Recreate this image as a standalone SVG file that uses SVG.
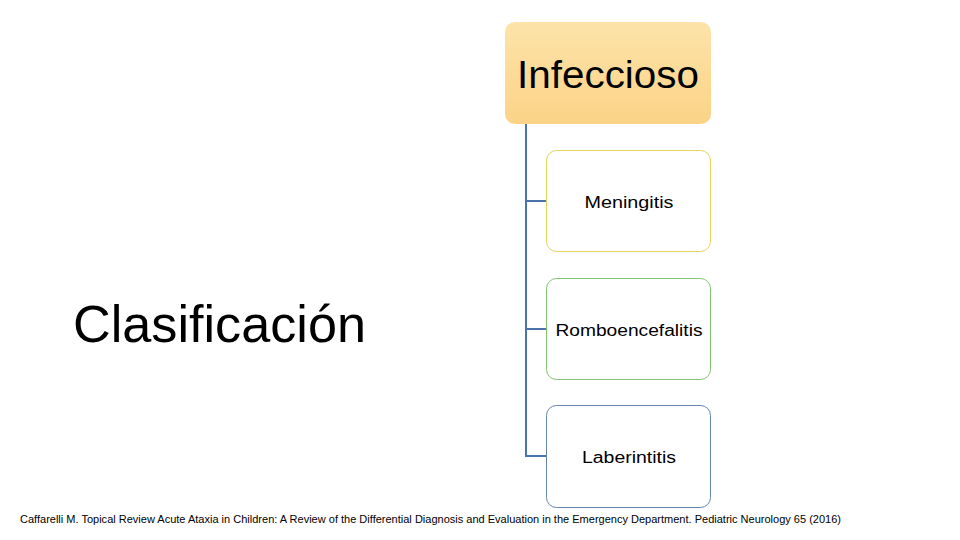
<svg xmlns="http://www.w3.org/2000/svg" width="960" height="540" viewBox="0 0 960 540">
<defs>
<linearGradient id="g1" x1="0" y1="0" x2="0" y2="1">
<stop offset="0" stop-color="#fde3a9"/>
<stop offset="1" stop-color="#fbd387"/>
</linearGradient>
<style>
text{font-family:"Liberation Sans","Open Sans",sans-serif;fill:#000}
.child{fill:#fff;stroke-width:1}
.c{stroke:#4b73ab;stroke-width:2;fill:none}
.t{font-size:16px;text-anchor:middle}
</style>
</defs>
<rect width="960" height="540" fill="#fff"/>
<text x="73" y="342" font-size="52" textLength="293" lengthAdjust="spacingAndGlyphs" fill="#222">Clasificación</text>
<g id="connectors">
<path class="c" d="M526 124V456H546M526 201H546M526 329H546"/>
</g>
<g id="infeccioso">
<rect x="505" y="22" width="206" height="102" rx="10" fill="url(#g1)"/>
<text x="608" y="88" font-size="38" text-anchor="middle" textLength="182" lengthAdjust="spacingAndGlyphs">Infeccioso</text>
</g>
<g id="meningitis">
<rect class="child" x="546.5" y="150.5" width="164" height="101" rx="10" stroke="#e5d35a"/>
<text class="t" x="629" y="208" textLength="89" lengthAdjust="spacingAndGlyphs">Meningitis</text>
</g>
<g id="romboencefalitis">
<rect class="child" x="546.5" y="278.5" width="164" height="101" rx="10" stroke="#82c46f"/>
<text class="t" x="629" y="336" textLength="147" lengthAdjust="spacingAndGlyphs">Romboencefalitis</text>
</g>
<g id="laberintitis">
<rect class="child" x="546.5" y="405.5" width="164" height="102" rx="10" stroke="#6585ad"/>
<text class="t" x="629" y="463" textLength="94" lengthAdjust="spacingAndGlyphs">Laberintitis</text>
</g>
<text x="20" y="523" font-size="11" textLength="821" lengthAdjust="spacingAndGlyphs">Caffarelli M. Topical Review Acute Ataxia in Children: A Review of the Differential Diagnosis and Evaluation in the Emergency Department. Pediatric Neurology 65 (2016)</text>
</svg>
